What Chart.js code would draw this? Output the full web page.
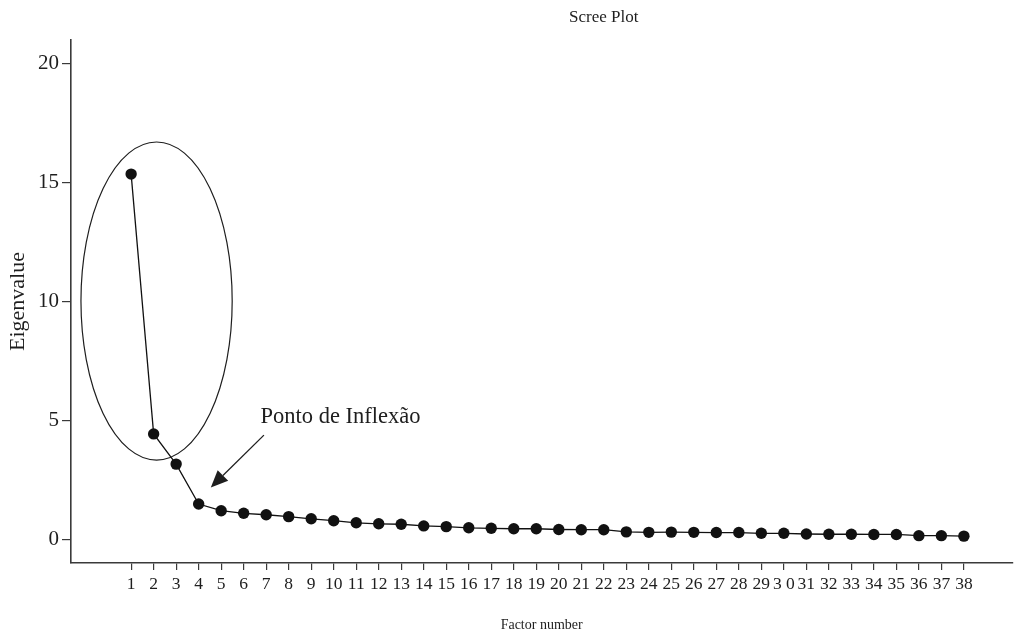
<!DOCTYPE html>
<html>
<head>
<meta charset="utf-8">
<script src="https://cdn.jsdelivr.net/npm/chart.js@4/dist/chart.umd.min.js"></script>
<style>
  html, body { margin: 0; padding: 0; background: #ffffff; }
  #wrap { width: 1018px; height: 634px; }
</style>
</head>
<body>
<div id="wrap"><canvas id="c" width="1018" height="634"></canvas></div>
<script>
// ---- data ----
const factorNumbers = [1,2,3,4,5,6,7,8,9,10,11,12,13,14,15,16,17,18,19,20,21,22,23,24,25,26,27,28,29,30,31,32,33,34,35,36,37,38];
const factorLabels = ['1','2','3','4','5','6','7','8','9','10','11','12','13','14','15','16','17','18','19','20','21','22','23','24','25','26','27','28','29','3 0','31','32','33','34','35','36','37','38'];
const eigenvalues = [15.36,4.43,3.16,1.48,1.20,1.09,1.03,0.95,0.86,0.78,0.69,0.65,0.63,0.56,0.53,0.48,0.46,0.44,0.44,0.41,0.40,0.40,0.31,0.29,0.30,0.29,0.28,0.28,0.25,0.25,0.22,0.21,0.21,0.20,0.20,0.15,0.15,0.13];
const yTickValues = [0,5,10,15,20];

const chartTitle = 'Scree Plot';
const xTitle = 'Factor number';
const yTitle = 'Eigenvalue';
const noteText = 'Ponto de Inflexão';

// annotation geometry (data units)
const ellipseSpec = { cx: 2.13, cy: 10.02, rx: 3.36, ry: 6.69 };
const arrowSpec = { x0: 6.90, y0: 4.38, x1: 4.54, y1: 2.18 };
const noteSpec = { x: 6.75, y: 5.14 };
// title position: centred over this x value, in the top margin
const titleSpec = { x: 22.0, top: 18 };

const FONT = "'Liberation Serif', 'DejaVu Serif', serif";
const INK = '#1e1e1e';
const AXIS = '#3a3a3a';

const annotationPlugin = {
  id: 'screeAnnotations',
  afterDatasetsDraw(chart) {
    const ctx = chart.ctx;
    const xs = chart.scales.x, ys = chart.scales.y;
    ctx.save();
    // title
    ctx.font = '17px ' + FONT;
    ctx.fillStyle = INK;
    ctx.textAlign = 'center';
    ctx.textBaseline = 'middle';
    ctx.fillText(chartTitle, xs.getPixelForValue(titleSpec.x), titleSpec.top);
    // ellipse
    const cx = xs.getPixelForValue(ellipseSpec.cx);
    const cy = ys.getPixelForValue(ellipseSpec.cy);
    const rx = Math.abs(xs.getPixelForValue(ellipseSpec.cx + ellipseSpec.rx) - cx);
    const ry = Math.abs(ys.getPixelForValue(ellipseSpec.cy + ellipseSpec.ry) - cy);
    ctx.beginPath();
    ctx.ellipse(cx, cy, rx, ry, 0, 0, Math.PI * 2);
    ctx.strokeStyle = INK;
    ctx.lineWidth = 1.2;
    ctx.stroke();
    // arrow
    const ax0 = xs.getPixelForValue(arrowSpec.x0), ay0 = ys.getPixelForValue(arrowSpec.y0);
    const ax1 = xs.getPixelForValue(arrowSpec.x1), ay1 = ys.getPixelForValue(arrowSpec.y1);
    const ang = Math.atan2(ay1 - ay0, ax1 - ax0);
    const headLen = 17, headHalf = 7.5;
    const bx = ax1 - headLen * Math.cos(ang), by = ay1 - headLen * Math.sin(ang);
    ctx.beginPath();
    ctx.moveTo(ax0, ay0);
    ctx.lineTo(bx, by);
    ctx.lineWidth = 1.3;
    ctx.stroke();
    ctx.beginPath();
    ctx.moveTo(ax1, ay1);
    ctx.lineTo(bx + headHalf * Math.sin(ang), by - headHalf * Math.cos(ang));
    ctx.lineTo(bx - headHalf * Math.sin(ang), by + headHalf * Math.cos(ang));
    ctx.closePath();
    ctx.fillStyle = INK;
    ctx.fill();
    // note text
    ctx.font = '22.5px ' + FONT;
    ctx.fillStyle = INK;
    ctx.textAlign = 'left';
    ctx.textBaseline = 'middle';
    ctx.fillText(noteText, xs.getPixelForValue(noteSpec.x), ys.getPixelForValue(noteSpec.y));
    ctx.restore();
  }
};

new Chart(document.getElementById('c'), {
  type: 'line',
  data: {
    datasets: [{
      data: factorNumbers.map((f, i) => ({ x: f, y: eigenvalues[i] })),
      borderColor: '#111111',
      borderWidth: 1.3,
      pointBackgroundColor: '#111111',
      pointBorderColor: '#111111',
      pointBorderWidth: 0,
      pointRadius: 5.7,
      tension: 0,
      fill: false
    }]
  },
  options: {
    responsive: false,
    animation: false,
    devicePixelRatio: 1,
    layout: { padding: { left: 0, right: 0, top: 40, bottom: 0 } },
    plugins: {
      legend: { display: false },
      tooltip: { enabled: false },
      title: { display: false }
    },
    scales: {
      x: {
        type: 'linear',
        min: -1.672,
        max: 40.151,
        afterBuildTicks(scale) { scale.ticks = factorNumbers.map(v => ({ value: v })); },
        afterFit(scale) { scale.height = 71; },
        ticks: {
          autoSkip: false,
          maxRotation: 0,
          minRotation: 0,
          padding: 4,
          color: INK,
          font: { family: FONT, size: 17.5 },
          callback: (v) => { const i = factorNumbers.indexOf(v); return i >= 0 ? factorLabels[i] : ''; }
        },
        grid: { drawOnChartArea: false, drawTicks: true, tickLength: 7, color: AXIS, lineWidth: 1.2 },
        border: { display: true, color: AXIS, width: 1.6 },
        title: {
          display: true,
          text: xTitle,
          color: INK,
          font: { family: FONT, size: 14, lineHeight: 1.2 },
          padding: { top: 0, bottom: 0 }
        }
      },
      y: {
        type: 'linear',
        min: -1,
        max: 21,
        afterBuildTicks(scale) { scale.ticks = yTickValues.map(v => ({ value: v })); },
        afterFit(scale) { scale.width = 71; },
        ticks: {
          padding: 3,
          color: INK,
          font: { family: FONT, size: 21 }
        },
        grid: { drawOnChartArea: false, drawTicks: true, tickLength: 9, color: AXIS, lineWidth: 1.2 },
        border: { display: true, color: AXIS, width: 1.6 },
        title: {
          display: true,
          text: yTitle,
          color: INK,
          font: { family: FONT, size: 22, lineHeight: 1.2 },
          padding: { top: 5, bottom: 0 }
        }
      }
    }
  },
  plugins: [annotationPlugin]
});
</script>
</body>
</html>
